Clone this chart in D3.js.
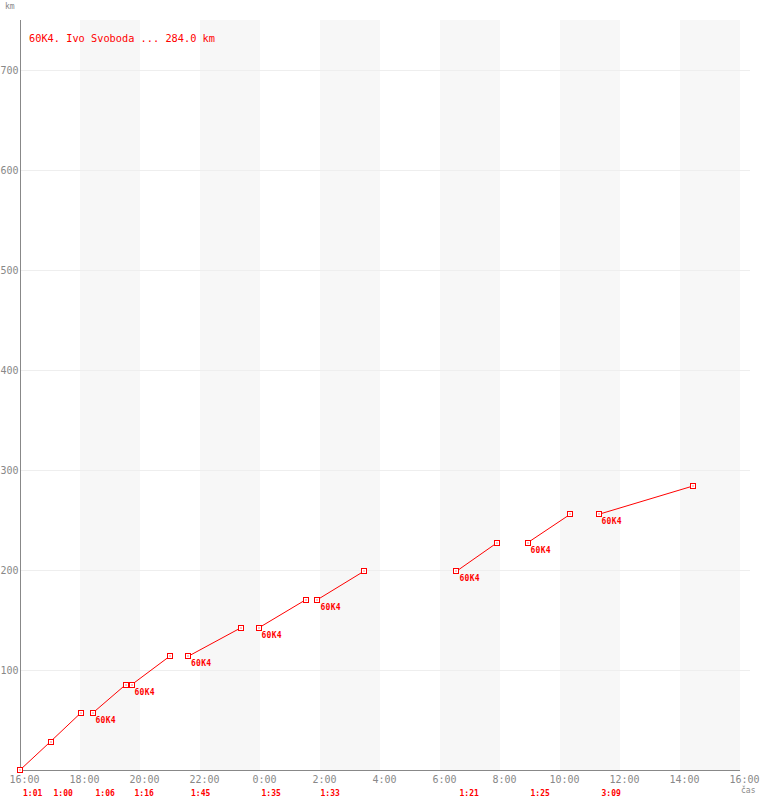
<!DOCTYPE html>
<html>
<head>
<meta charset="utf-8">
<script src="https://cdn.jsdelivr.net/npm/d3@7"></script>
<style>
body { margin: 0; background: #fff; }
text { font-family: "DejaVu Sans Mono", monospace; }
</style>
</head>
<body>
<div id="chart"></div>
<script>
// legs of the trip: start clock time, duration, label at start
var legStart = ["16:00", "17:01", "18:25", "19:43", "21:36", "23:57", "1:55", "6:33", "8:55", "11:17"];
var legDur = ["1:01", "1:00", "1:06", "1:16", "1:45", "1:35", "1:33", "1:21", "1:25", "3:09"];
var legLabel = ["", "", "60K4", "60K4", "60K4", "60K4", "60K4", "60K4", "60K4", "60K4"];
// cumulative km at each leg boundary
var kmMarks = [0, 28.4, 56.8, 85.2, 113.6, 142.0, 170.4, 198.8, 227.2, 255.6, 284.0];
var yTicks = [100, 200, 300, 400, 500, 600, 700];
var title = "60K4. Ivo Svoboda ... 284.0 km";
var red = "#ff0000";

var W = 760, H = 800;
var t0 = new Date(2020, 0, 1, 16, 0);
var t1 = new Date(2020, 0, 2, 16, 0);

function clock(s) {
    var p = s.split(":");
    var h = +p[0], m = +p[1];
    var d = new Date(2020, 0, 1, h, m);
    if (h < 16) d = new Date(2020, 0, 2, h, m);
    return d;
}
function mins(s) {
    var p = s.split(":");
    return +p[0] * 60 + +p[1];
}

var legs = legStart.map(function(s, i) {
    var a = clock(s);
    var b = new Date(a.getTime() + mins(legDur[i]) * 60000);
    return { a: a, b: b, k1: kmMarks[i], k2: kmMarks[i + 1], dur: legDur[i], label: legLabel[i] };
});

var svg = d3.select("#chart").append("svg")
    .attr("width", W)
    .attr("height", H);

var x = d3.scaleTime().domain([t0, t1]).range([20, 740]);
var y = d3.scaleLinear().domain([0, 750]).range([770, 20]);

var ticks = x.ticks(d3.timeHour.every(2));

// shaded bands every other 2 hours
svg.append("g").selectAll("rect")
    .data(ticks.filter(function(d, i) { return i % 2 == 1 && i < ticks.length - 1; }))
    .enter().append("rect")
    .attr("x", function(d) { return x(d); })
    .attr("y", y(750))
    .attr("width", function(d) { return x(d3.timeHour.offset(d, 2)) - x(d); })
    .attr("height", y(0) - y(750))
    .attr("fill", "#f7f7f7");

// horizontal grid
svg.append("g").selectAll("line")
    .data(yTicks)
    .enter().append("line")
    .attr("x1", 20).attr("x2", 750)
    .attr("y1", function(d) { return y(d) + 0.5; })
    .attr("y2", function(d) { return y(d) + 0.5; })
    .attr("stroke", "#eeeeee");

// x axis
var xAxis = svg.append("g")
    .attr("transform", "translate(0," + (y(0) + 0.5) + ")")
    .call(d3.axisBottom(x).tickValues(ticks).tickSize(0).tickPadding(5)
        .tickFormat(d3.timeFormat("%-H:%M")));
xAxis.select(".domain").attr("stroke", "#888").attr("d", "M20,0H740");
xAxis.selectAll("text")
    .attr("dx", 4)
    .attr("fill", "#888")
    .style("font-size", "10px");

// y axis
var yAxis = svg.append("g")
    .attr("transform", "translate(20.5,0)")
    .call(d3.axisLeft(y).tickValues(yTicks).tickSize(0).tickPadding(2));
yAxis.select(".domain").attr("stroke", "#888").attr("d", "M0,20V770");
yAxis.selectAll("text")
    .attr("fill", "#888")
    .style("font-size", "10px");

svg.append("text")
    .attr("x", 5).attr("y", 9)
    .attr("fill", "#888")
    .style("font-size", "8px")
    .text("km");

svg.append("text")
    .attr("x", 741).attr("y", 793)
    .attr("fill", "#888")
    .style("font-size", "8px")
    .text("čas");

// title
svg.append("text")
    .attr("x", 29).attr("y", 42)
    .attr("fill", red)
    .style("font-size", "10.3px")
    .text(title);

// leg lines
svg.append("g").selectAll("line")
    .data(legs)
    .enter().append("line")
    .attr("x1", function(d) { return x(d.a); })
    .attr("y1", function(d) { return y(d.k1); })
    .attr("x2", function(d) { return x(d.b); })
    .attr("y2", function(d) { return y(d.k2); })
    .attr("stroke", red)
    .attr("stroke-width", 1);

// markers
var pts = [];
legs.forEach(function(d) {
    pts.push({ t: d.a, k: d.k1 });
    pts.push({ t: d.b, k: d.k2 });
});
var mk = svg.append("g").selectAll("g")
    .data(pts)
    .enter().append("g")
    .attr("transform", function(d) {
        return "translate(" + Math.round(x(d.t)) + "," + Math.round(y(d.k)) + ")";
    });
mk.append("rect")
    .attr("x", -2.5).attr("y", -2.5)
    .attr("width", 5).attr("height", 5)
    .attr("fill", "#fff")
    .attr("stroke", red);
mk.append("rect")
    .attr("x", -0.5).attr("y", -0.5)
    .attr("width", 1).attr("height", 1)
    .attr("fill", red);

// labels at leg start
svg.append("g").selectAll("text")
    .data(legs.filter(function(d) { return d.label; }))
    .enter().append("text")
    .attr("x", function(d) { return x(d.a) + 3; })
    .attr("y", function(d) { return y(d.k1) + 10; })
    .attr("fill", red)
    .style("font-size", "8px")
    .style("font-weight", "bold")
    .style("letter-spacing", "0.3px")
    .text(function(d) { return d.label; });

// durations under the axis
svg.append("g").selectAll("text")
    .data(legs)
    .enter().append("text")
    .attr("x", function(d) { return x(d.a) + 3; })
    .attr("y", 796)
    .attr("fill", red)
    .style("font-size", "8px")
    .style("font-weight", "bold")
    .text(function(d) { return d.dur; });
</script>
</body>
</html>
